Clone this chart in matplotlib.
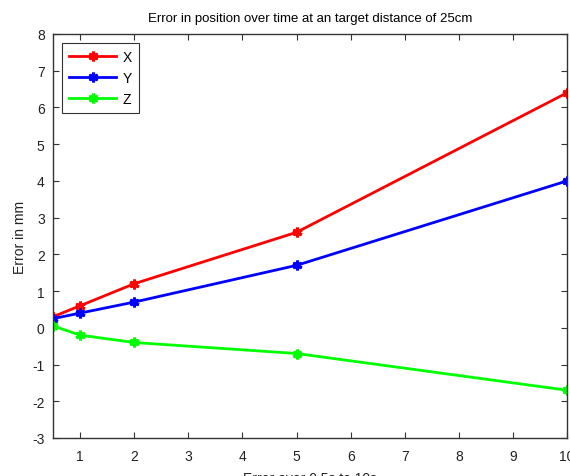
import matplotlib
matplotlib.use("Agg")
import matplotlib.pyplot as plt

t = [0.5, 1, 2, 5, 10]
x_err = [0.3, 0.6, 1.2, 2.6, 6.4]
y_err = [0.25, 0.4, 0.7, 1.7, 4.0]
z_err = [0.05, -0.2, -0.4, -0.7, -1.7]
xticks = [1, 2, 3, 4, 5, 6, 7, 8, 9, 10]
yticks = [-3, -2, -1, 0, 1, 2, 3, 4, 5, 6, 7, 8]

plt.rcParams['font.family'] = ['Liberation Sans', 'DejaVu Sans']
plt.rcParams['axes.unicode_minus'] = False
fig = plt.figure(figsize=(5.7, 4.77), dpi=100)
ax = fig.add_axes([0.093, 0.0797, 0.902, 0.847])
mk = dict(marker=(6, 2, 0), markersize=7, markeredgewidth=2.2, lw=2)
ax.plot(t, x_err, color='#ff0000', label='X', **mk)
ax.plot(t, y_err, color='#0000ff', label='Y', **mk)
ax.plot(t, z_err, color='#00ff00', label='Z', **mk)
ax.set_xlim(0.5, 10)
ax.set_ylim(-3, 8)
ax.set_xticks(xticks)
ax.set_yticks(yticks)
ax.tick_params(direction='in', top=True, right=True, labelsize=10, length=4, width=0.8,
               color='#333333', labelcolor='#222222')
ax.tick_params(axis='x', pad=8)
ax.tick_params(axis='y', pad=6)
for s in ax.spines.values():
    s.set_color('#333333')
    s.set_linewidth(1.0)
ax.set_title('Error in position over time at an target distance of 25cm', fontsize=9.5, pad=9)
ax.set_xlabel('Error over 0.5s to 10s', fontsize=10, labelpad=6, color='#222222')
ax.set_ylabel('Error in mm', fontsize=10, labelpad=4, color='#222222')
leg = ax.legend(loc='upper left', fontsize=10, fancybox=False, edgecolor='black',
                borderaxespad=0.65, handlelength=3.4, borderpad=0.5, labelspacing=0.5,
                handletextpad=0.45)
leg.get_frame().set_linewidth(0.8)
fig.savefig('out.png', dpi=100)
